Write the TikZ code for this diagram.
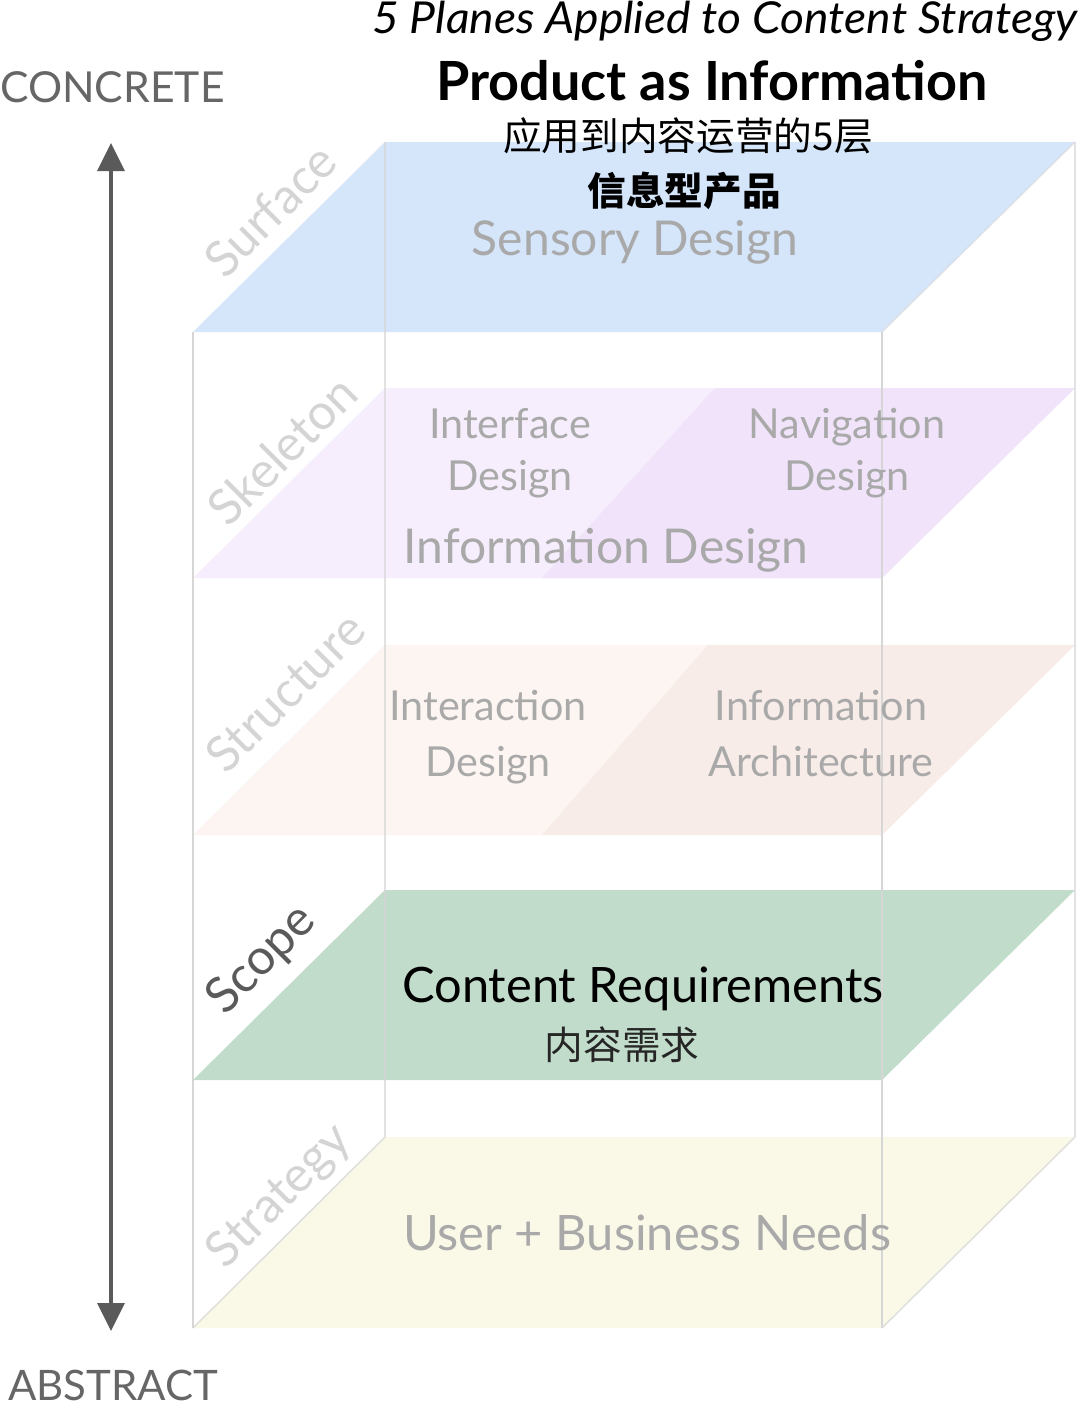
\documentclass[tikz,border=0pt]{standalone}
\usepackage{fontspec}
\setmainfont{Lato}
\newfontfamily\cjk{Noto Sans CJK SC}
\usetikzlibrary{arrows.meta}
\definecolor{surf}{HTML}{D5E5FA}
\definecolor{skelA}{HTML}{F6EEFC}
\definecolor{skelB}{HTML}{F0E3FA}
\definecolor{strA}{HTML}{FCF5F1}
\definecolor{strB}{HTML}{F7ECE8}
\definecolor{scop}{HTML}{C2DCCB}
\definecolor{strat}{HTML}{FAF9E8}
\definecolor{boxline}{HTML}{D6D6D6}
\definecolor{faint}{HTML}{D4D4D4}
\definecolor{midgray}{HTML}{A9A9A9}
\definecolor{axisgray}{HTML}{5A5A5A}
\definecolor{labgray}{HTML}{666666}
\tikzset{
  sidelabel/.style={rotate=45, anchor=center, text=faint, font=\fontsize{37}{40}\selectfont},
  planetext/.style={anchor=base, text=midgray, font=\fontsize{31}{34}\selectfont},
  bigplanetext/.style={anchor=base, text=midgray, font=\fontsize{36}{40}\selectfont},
  edge/.style={draw=boxline, line width=1.2pt},
}
\begin{document}
\begin{tikzpicture}[x=0.75pt,y=-0.75pt]
\useasboundingbox (0,0) rectangle (1080,1407);
\fill[white] (0,0) rectangle (1080,1407);
% planes
\fill[strat] (385,1137) -- (1075,1137) -- (882,1328) -- (193,1328) -- cycle;
\fill[scop] (385,890) -- (1075,890) -- (882,1080) -- (193,1080) -- cycle;
\fill[strA] (385,645) -- (1075,645) -- (882,835) -- (193,835) -- cycle;
\fill[strB] (708,645) -- (1075,645) -- (882,835) -- (542,835) -- cycle;
\fill[skelA] (385,388) -- (1075,388) -- (882,578) -- (193,578) -- cycle;
\fill[skelB] (715,388) -- (1075,388) -- (882,578) -- (542,578) -- cycle;
\fill[surf] (385,142) -- (1075,142) -- (882,332) -- (193,332) -- cycle;
% box wireframe
\coordinate (b1) at (385,142);
\coordinate (b2) at (1075,142);
\coordinate (f1) at (193,332);
\coordinate (f2) at (882,332);
\coordinate (b3) at (385,1137);
\coordinate (b4) at (1075,1137);
\coordinate (f3) at (193,1328);
\coordinate (f4) at (882,1328);
\draw[edge, draw opacity=0.7] (b1) -- (b3) (b2) -- (b4) (b3) -- (f3) (b4) -- (f4);
\draw[edge] (f1) -- (f3) (f2) -- (f4);
\draw[edge, draw opacity=0.5] (b2) -- (f2);
% axis arrow
\coordinate (atop) at (111,143);
\coordinate (abot) at (111,1331);
\draw[axisgray, line width=3pt, {Triangle[width=20pt,length=21pt]}-{Triangle[width=20pt,length=21pt]}] (atop) -- (abot);
\node[anchor=base west, text=labgray, font=\fontsize{32}{36}\selectfont, inner sep=0pt] (concrete) at (0,102) {CONCRETE};
\node[anchor=base west, text=labgray, font=\fontsize{31.5}{36}\selectfont, inner sep=0pt] (abstract) at (8,1400) {ABSTRACT};
% titles
\node[anchor=base, xscale=1.05, font=\fontsize{33}{36}\itshape\selectfont, inner sep=0pt] (title) at (725,33) {5 Planes Applied to Content Strategy};
\node[anchor=base, font=\fontsize{40.5}{44}\bfseries\selectfont, inner sep=0pt] (product) at (712,100) {Product as Information};
\node[anchor=center, font=\cjk\fontsize{29}{32}\selectfont, inner sep=0pt] (cntitle) at (688,136) {应用到内容运营的5层};
\node[anchor=center, font=\cjk\fontsize{29}{32}\bfseries\selectfont, inner sep=0pt] (cnsub) at (684,191) {信息型产品};
% side labels
\node[sidelabel] (lsurf) at (270,210) {Surface};
\node[sidelabel] (lskel) at (282,450) {Skeleton};
\node[sidelabel] (lstruc) at (285,692) {Structure};
\node[sidelabel, text=axisgray] (lscope) at (262,960) {Scope};
\node[sidelabel] (lstrat) at (280,1197) {Strategy};
% plane texts
\node[bigplanetext] (sensory) at (635,255) {Sensory Design};
\node[planetext] (iface1) at (510,438) {Interface};
\node[planetext] (iface2) at (510,490) {Design};
\node[planetext] (nav1) at (847,438) {Navigation};
\node[planetext] (nav2) at (847,490) {Design};
\node[bigplanetext] (infod) at (606,563) {Information Design};
\node[planetext] (inter1) at (488,720) {Interaction};
\node[planetext] (inter2) at (488,776) {Design};
\node[planetext] (ia1) at (821,720) {Information};
\node[planetext] (ia2) at (821,776) {Architecture};
\node[bigplanetext, text=black, font=\fontsize{36.6}{40}\selectfont] (content) at (643,1002) {Content Requirements};
\node[anchor=center, font=\cjk\fontsize{29}{32}\selectfont, text=black!85, inner sep=0pt] (cncontent) at (622,1045) {内容需求};
\node[bigplanetext, font=\fontsize{36.6}{40}\selectfont] (user) at (647,1250) {User + Business Needs};
\end{tikzpicture}
\end{document}
